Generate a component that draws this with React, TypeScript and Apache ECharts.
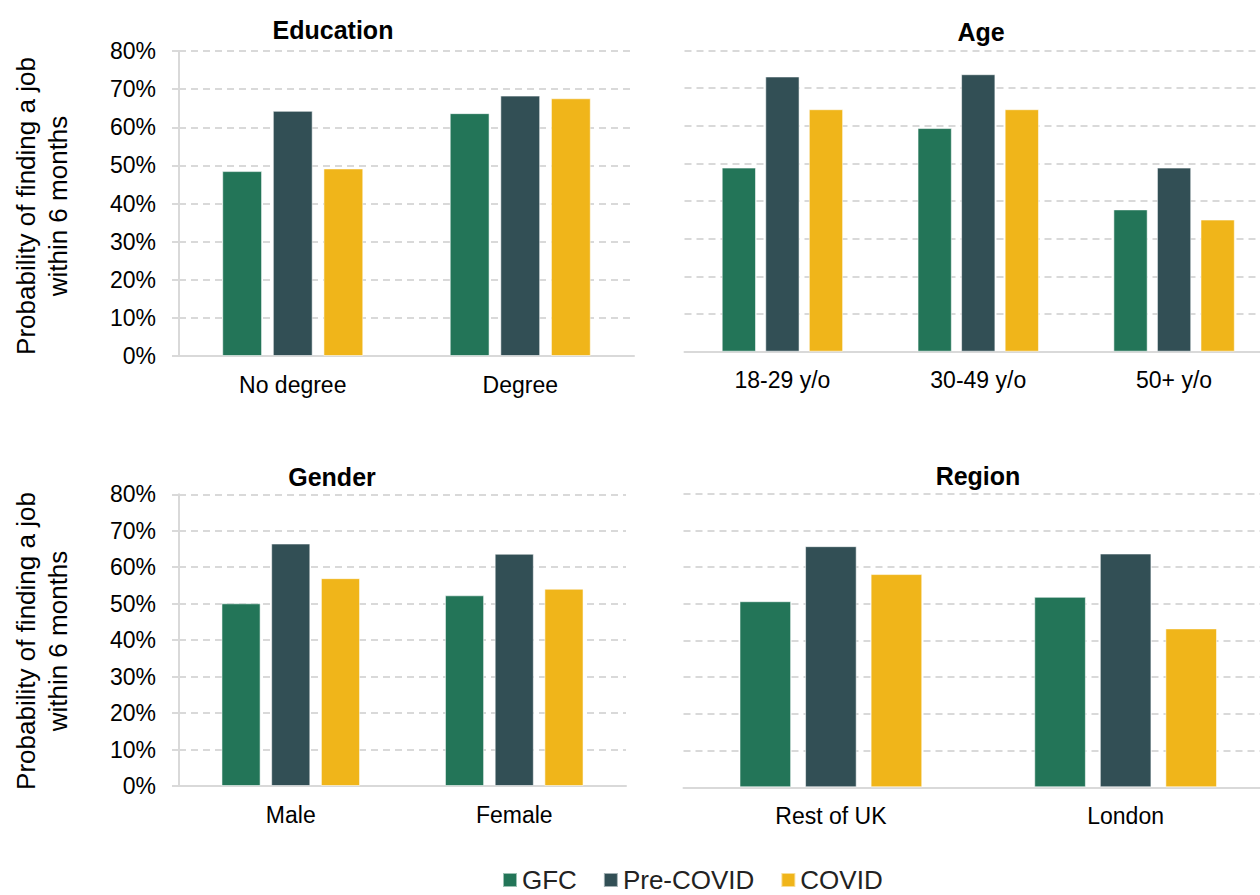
import React, { useEffect, useRef } from 'react';
import * as echarts from 'echarts';

// Series shared by all four panels
const seriesNames = ['GFC', 'Pre-COVID', 'COVID'];
const seriesColors = ['#237558', '#324F55', '#F0B51A'];

// Education
const educationCategories = ['No degree', 'Degree'];
const educationGfc = [48.5, 63.7];
const educationPreCovid = [64.3, 68.3];
const educationCovid = [49.2, 67.6];

// Age
const ageCategories = ['18-29 y/o', '30-49 y/o', '50+ y/o'];
const ageGfc = [48.9, 59.4, 37.8];
const agePreCovid = [73.1, 73.7, 48.9];
const ageCovid = [64.4, 64.4, 35.1];

// Gender
const genderCategories = ['Male', 'Female'];
const genderGfc = [50.1, 52.3];
const genderPreCovid = [66.5, 63.7];
const genderCovid = [57.0, 54.1];

// Region
const regionCategories = ['Rest of UK', 'London'];
const regionGfc = [50.7, 51.9];
const regionPreCovid = [65.7, 63.7];
const regionCovid = [58.1, 43.3];

// Value axis (percent)
const yMin = 0;
const yMax = 80;
const yStep = 10;

const yAxisTitle = 'Probability of finding a job\nwithin 6 months';

const FONT = '"Liberation Sans", Arial, Helvetica, sans-serif';
const GRID_GREY = '#d9d9d9';

// The drawing surface is a little wider than the visible frame so the
// right-hand panels run on past the frame's right edge.
const VIEW_W = 1260;
const VIEW_H = 895;
const CHART_W = 1290;

type Panel = {
  title: string;
  categories: string[];
  values: number[][];
  x0: number;
  x1: number;
  top: number;
  bottom: number;
  showY: boolean;
  titleAt: [number, number];
};

const panels: Panel[] = [
  {
    title: 'Education',
    categories: educationCategories,
    values: [educationGfc, educationPreCovid, educationCovid],
    x0: 179,
    x1: 634,
    top: 51,
    bottom: 356,
    showY: true,
    titleAt: [333, 29.5],
  },
  {
    title: 'Age',
    categories: ageCategories,
    values: [ageGfc, agePreCovid, ageCovid],
    x0: 684.5,
    x1: 1272,
    top: 50.5,
    bottom: 351.7,
    showY: false,
    titleAt: [981, 32],
  },
  {
    title: 'Gender',
    categories: genderCategories,
    values: [genderGfc, genderPreCovid, genderCovid],
    x0: 179,
    x1: 626,
    top: 494.3,
    bottom: 786,
    showY: true,
    titleAt: [332, 476.5],
  },
  {
    title: 'Region',
    categories: regionCategories,
    values: [regionGfc, regionPreCovid, regionCovid],
    x0: 683.5,
    x1: 1273,
    top: 493.7,
    bottom: 787.3,
    showY: false,
    titleAt: [978, 476],
  },
];

function buildOption() {
  const grid = panels.map((p) => ({
    left: p.x0,
    right: CHART_W - p.x1,
    top: p.top,
    bottom: VIEW_H - p.bottom,
    containLabel: false,
  }));

  const xAxis = panels.map((p, i) => ({
    type: 'category',
    gridIndex: i,
    data: p.categories,
    axisLine: { show: true, lineStyle: { color: GRID_GREY, width: 2 } },
    axisTick: { show: false },
    axisLabel: { fontSize: 23, color: '#000', margin: 17, fontFamily: FONT },
  }));

  const yAxis = panels.map((p, i) => ({
    type: 'value',
    gridIndex: i,
    min: yMin,
    max: yMax,
    interval: yStep,
    axisLine: { show: p.showY, lineStyle: { color: GRID_GREY, width: 2 } },
    axisTick: { show: p.showY, length: 7, lineStyle: { color: GRID_GREY, width: 2 } },
    axisLabel: {
      show: p.showY,
      formatter: '{value}%',
      fontSize: 23,
      color: '#000',
      margin: 23,
      fontFamily: FONT,
    },
    splitLine: { show: true, lineStyle: { color: GRID_GREY, width: 2, type: [7, 5] } },
  }));

  const series: any[] = [];
  panels.forEach((p, i) => {
    p.values.forEach((vals, s) => {
      series.push({
        type: 'bar',
        name: seriesNames[s],
        xAxisIndex: i,
        yAxisIndex: i,
        data: vals,
        barGap: '27%',
        barCategoryGap: '38%',
        itemStyle: {
          color: seriesColors[s],
          borderColor: 'rgba(255,255,255,0.55)',
          borderWidth: 1,
        },
      });
    });
  });

  const titles = panels.map((p) => ({
    type: 'text',
    x: p.titleAt[0],
    y: p.titleAt[1],
    style: {
      text: p.title,
      font: `bold 25px ${FONT}`,
      fill: '#000',
      textAlign: 'center',
      textVerticalAlign: 'middle',
      align: 'center',
      verticalAlign: 'middle',
    },
  }));

  const axisTitles = [206, 641].map((cy) => ({
    type: 'text',
    x: 42,
    y: cy,
    rotation: Math.PI / 2,
    style: {
      text: yAxisTitle,
      font: `26px ${FONT}`,
      fill: '#000',
      lineHeight: 32,
      textAlign: 'center',
      textVerticalAlign: 'middle',
      align: 'center',
      verticalAlign: 'middle',
    },
  }));

  return {
    animation: false,
    backgroundColor: '#ffffff',
    textStyle: { fontFamily: FONT },
    grid,
    xAxis,
    yAxis,
    series,
    legend: {
      data: seriesNames,
      left: 497,
      top: 861,
      icon: 'rect',
      itemWidth: 14,
      itemHeight: 14,
      itemGap: 26,
      textStyle: { fontSize: 26, lineHeight: 28, color: '#222', fontFamily: FONT },
    },
    graphic: [...titles, ...axisTitles],
  };
}

export default function App() {
  const ref = useRef<HTMLDivElement>(null);

  useEffect(() => {
    if (!ref.current) return;
    const chart = echarts.init(ref.current, undefined, { renderer: 'svg' });
    chart.setOption(buildOption() as any);
    return () => chart.dispose();
  }, []);

  return (
    <div
      style={{
        position: 'fixed',
        left: 0,
        top: 0,
        width: VIEW_W,
        height: VIEW_H,
        overflow: 'hidden',
        background: '#ffffff',
      }}
    >
      <div ref={ref} style={{ width: CHART_W, height: VIEW_H }} />
    </div>
  );
}
